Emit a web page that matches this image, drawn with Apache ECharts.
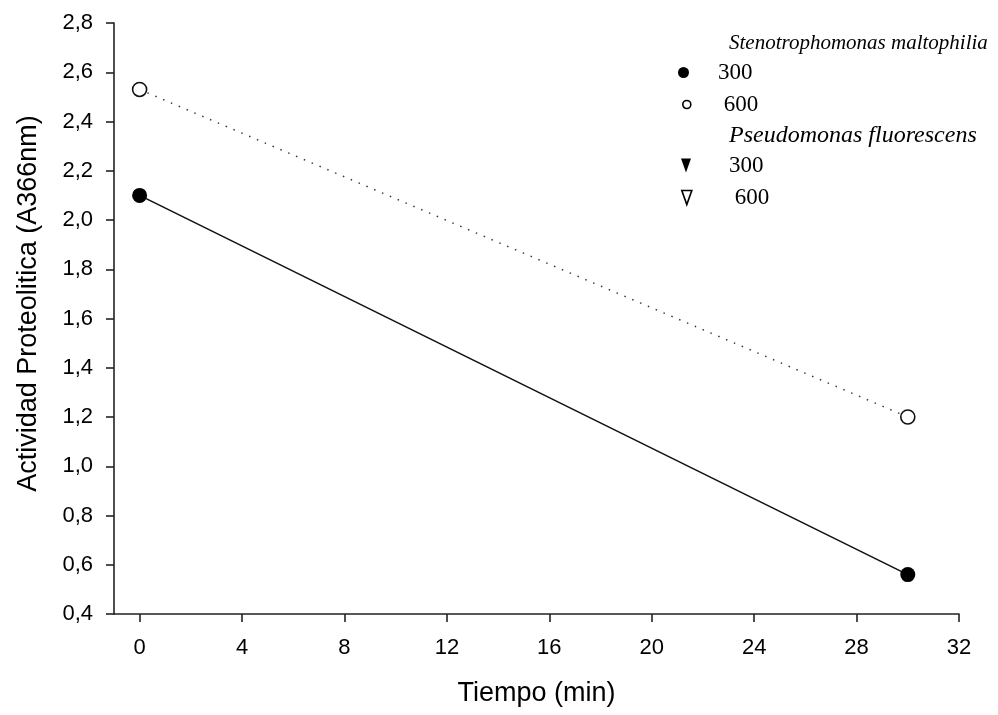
<!DOCTYPE html>
<html>
<head>
<meta charset="utf-8">
<script src="https://cdn.jsdelivr.net/npm/echarts@6/dist/echarts.min.js"></script>
<style>
  html, body { margin: 0; padding: 0; background: #fff; }
  #main { width: 998px; height: 715px; }
</style>
</head>
<body>
<div id="main"></div>
<script>
// datos
var tiempo = [0, 30];
var sm300 = [2.10, 0.56];   // Stenotrophomonas maltophilia 300
var sm600 = [2.53, 1.20];   // Stenotrophomonas maltophilia 600
var pf300 = [];             // Pseudomonas fluorescens 300 (sin puntos)
var pf600 = [];             // Pseudomonas fluorescens 600 (sin puntos)
var xTicks = [0, 4, 8, 12, 16, 20, 24, 28, 32];

function pares(xs, ys) {
    return ys.map(function (v, i) { return [xs[i], v]; });
}

var myChart = echarts.init(document.getElementById('main'));
var tri = 'path://M0,0L10,0L5,14Z';
var serif = 'Liberation Serif';

function leyenda(name, icon, left, top, w, h, fill, padLeft, padTop) {
    return {
        data: [name],
        icon: icon,
        left: left,
        top: top,
        padding: 0,
        itemWidth: w,
        itemHeight: h,
        selectedMode: false,
        itemStyle: { color: fill, borderColor: '#000', borderWidth: fill === '#fff' ? 1.6 : 0 },
        formatter: function (n) { return n.split('_')[1]; },
        textStyle: { fontFamily: serif, fontSize: 23, color: '#000', padding: [padTop, 0, 0, padLeft] }
    };
}

var option = {
    animation: false,
    backgroundColor: '#fff',
    grid: { left: 114, right: 39, top: 23, bottom: 101, outerBoundsMode: 'none' },
    legend: [
        leyenda('sm_300', 'circle', 678, 61, 11, 13, '#000', 24, 16),
        leyenda('sm_600', 'circle', 682, 93, 8, 10, '#fff', 28, 17),
        leyenda('pf_300', tri, 681, 154, 10, 14, '#000', 33, 2),
        leyenda('pf_600', tri, 681, 186, 10, 14, '#fff', 38, 16)
    ],
    graphic: [
        { type: 'text', left: 729, top: 33, style: { text: 'Stenotrophomonas maltophilia', font: 'italic 21px "Liberation Serif"', fill: '#000' } },
        { type: 'text', left: 729, top: 124, style: { text: 'Pseudomonas fluorescens', font: 'italic 24px "Liberation Serif"', fill: '#000' } }
    ],
    xAxis: {
        type: 'value',
        min: -1,
        max: 32,
        name: 'Tiempo (min)',
        nameLocation: 'middle',
        nameGap: 66,
        nameMoveOverlap: false,
        nameTextStyle: { fontFamily: 'Liberation Sans', fontSize: 27, color: '#000' },
        axisLine: { show: true, onZero: false, lineStyle: { color: '#222', width: 1.6 } },
        axisTick: { show: true, customValues: xTicks, length: 8, lineStyle: { color: '#222', width: 1.6 } },
        axisLabel: { customValues: xTicks, margin: 23, fontFamily: 'Liberation Sans', fontSize: 22, color: '#000' },
        splitLine: { show: false }
    },
    yAxis: {
        type: 'value',
        min: 0.4,
        max: 2.8,
        interval: 0.2,
        name: 'Actividad Proteolitica (A366nm)',
        nameLocation: 'middle',
        nameGap: 72,
        nameMoveOverlap: false,
        nameTextStyle: { fontFamily: 'Liberation Sans', fontSize: 27, color: '#000', padding: [0, 0, 0, 30] },
        axisLine: { show: true, onZero: false, lineStyle: { color: '#222', width: 1.6 } },
        axisTick: { show: true, length: 8, lineStyle: { color: '#222', width: 1.6 } },
        axisLabel: {
            margin: 21, fontFamily: 'Liberation Sans', fontSize: 22, color: '#000',
            formatter: function (v) { return v.toFixed(1).replace('.', ','); }
        },
        splitLine: { show: false }
    },
    series: [
        {
            name: 'sm_300', type: 'line', data: pares(tiempo, sm300),
            symbol: 'circle', symbolSize: 15,
            itemStyle: { color: '#000' },
            lineStyle: { color: '#111', width: 1.6 }, z: 3
        },
        {
            name: 'sm_600', type: 'line', data: pares(tiempo, sm600),
            symbol: 'circle', symbolSize: 14,
            itemStyle: { color: '#fff', borderColor: '#111', borderWidth: 1.6 },
            lineStyle: { color: '#333', width: 1.4, type: [1.5, 7] }, z: 3
        },
        {
            name: 'pf_300', type: 'line', data: pares(tiempo, pf300),
            symbol: tri, symbolSize: [9, 13], itemStyle: { color: '#000' }
        },
        {
            name: 'pf_600', type: 'line', data: pares(tiempo, pf600),
            symbol: tri, symbolSize: [9, 13], itemStyle: { color: '#fff', borderColor: '#000' }
        }
    ]
};

myChart.setOption(option);
window.onresize = function () { myChart.resize(); };
</script>
</body>
</html>
